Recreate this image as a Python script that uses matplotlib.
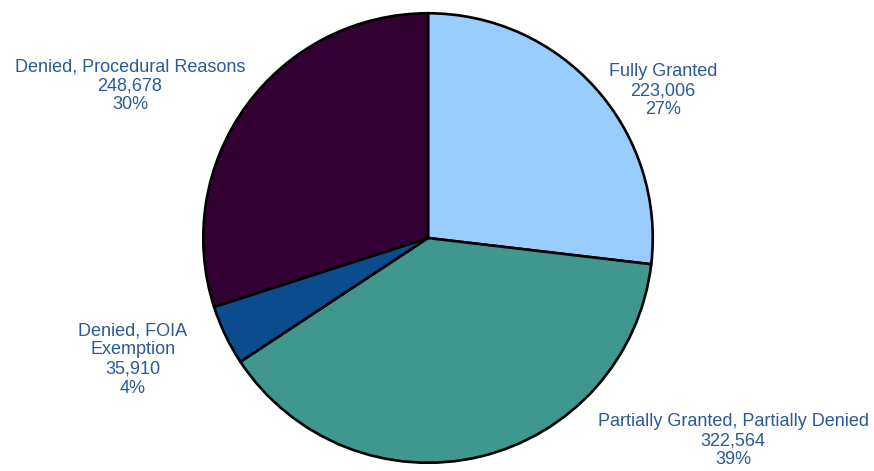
import matplotlib.pyplot as plt

# Data
categories = ['Fully Granted', 'Partially Granted, Partially Denied',
              'Denied, FOIA\nExemption', 'Denied, Procedural Reasons']
counts = [223006, 322564, 35910, 248678]
colors = ['#99CCFF', '#3F978D', '#0B4C8E', '#330033']

# label anchor points in pixels (x center, y of first line from top)
label_pos = [(663, 71), (733, 421), (133, 330), (130, 66)]

W, H = 874, 471
fig = plt.figure(figsize=(W / 100, H / 100), dpi=100)
plt.rcParams['font.family'] = ['Liberation Sans', 'DejaVu Sans']

# pie axes: center (428, 238), radius ~227 px
cx, cy, r = 428, 238, 227
ax = fig.add_axes([(cx - r) / W, (H - cy - r) / H, 2 * r / W, 2 * r / H])
ax.pie(counts, colors=colors, startangle=90, counterclock=False,
       wedgeprops=dict(edgecolor='black', linewidth=1.9))
ax.set_aspect('equal')
ax.set_xlim(-1.01, 1.01)
ax.set_ylim(-1.01, 1.01)
ax.axis('off')

total = sum(counts)
for cat, n, (x, y) in zip(categories, counts, label_pos):
    txt = '%s\n%s\n%d%%' % (cat, format(n, ','), round(100 * n / total))
    fig.text(x / W, 1 - (y - 8) / H, txt, ha='center', va='top',
             fontsize=13, color='#2A5A98', linespacing=1.17)

fig.savefig('out.png', dpi=100)
